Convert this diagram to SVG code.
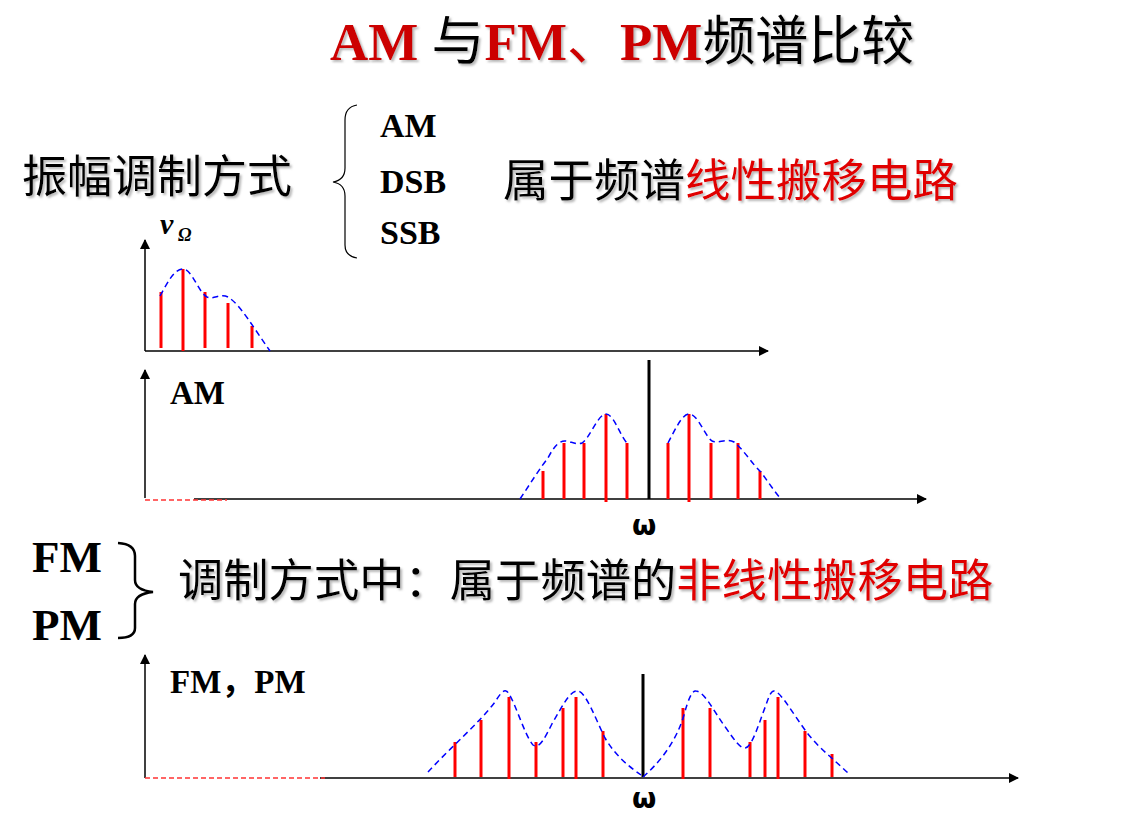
<svg xmlns="http://www.w3.org/2000/svg" width="1143" height="831" viewBox="0 0 1143 831">
<style>
.bg{fill:#fff}
.axis{stroke:#000;stroke-width:1.5;fill:none}
.bar{stroke:#f00;stroke-width:3;fill:none}
.car{stroke:#000;stroke-width:3;fill:none}
.env{stroke:#00f;stroke-width:1.5;fill:none;stroke-dasharray:6 4}
.rdash{stroke:#f33;stroke-width:1.5;fill:none;stroke-dasharray:5 3}
.brace{stroke:#000;fill:none}
.lat{font-family:"Liberation Serif","Times New Roman",serif;font-weight:bold}
.cjk{font-family:"Noto Sans CJK SC","Noto Sans",sans-serif}
.red{fill:#e00000}
.blk{fill:#000}
</style>
<defs>
<marker id="arr" viewBox="0 0 10 10" refX="9" refY="5" markerWidth="10" markerHeight="10" markerUnits="userSpaceOnUse" orient="auto">
<path d="M0,0 L10,5 L0,10 Z" fill="#000"/>
</marker>
<filter id="sh" x="-5%" y="-20%" width="110%" height="150%">
<feDropShadow dx="2" dy="2" stdDeviation="1.2" flood-color="#888" flood-opacity="0.6"/>
</filter>
</defs>
<rect class="bg" x="0" y="0" width="1143" height="831"/>

<g id="title" filter="url(#sh)">
<text x="330" y="60" font-size="53"><tspan class="lat" fill="#cc0000">AM </tspan><tspan class="cjk blk">与</tspan><tspan class="lat" fill="#cc0000">FM</tspan><tspan class="cjk" fill="#cc0000">、</tspan><tspan class="lat" fill="#cc0000">PM</tspan><tspan class="cjk blk">频谱比较</tspan></text>
</g>

<g id="am-modes">
<text class="cjk" x="22" y="193" font-size="45" fill="#000" filter="url(#sh)">振幅调制方式</text>
<path class="brace" stroke-width="1.2" d="M357,105 Q345,107 345,120 L345,168 Q345,180 333,182 Q345,184 345,196 L345,245 Q345,256 357,258"/>
<text class="lat" x="380" y="137" font-size="34">AM</text>
<text class="lat" x="380" y="193" font-size="34">DSB</text>
<text class="lat" x="380" y="244" font-size="34">SSB</text>
<text class="cjk" x="503" y="197" font-size="45.5" filter="url(#sh)"><tspan fill="#000">属于频谱</tspan><tspan fill="#e00000">线性搬移电路</tspan></text>
</g>

<g id="chart-baseband">
<line class="axis" x1="145" y1="351" x2="145" y2="240" marker-end="url(#arr)"/>
<line class="axis" x1="145" y1="351" x2="768" y2="351" marker-end="url(#arr)"/>
<text x="160" y="234" font-size="30" font-family="Liberation Serif,serif" font-style="italic" font-weight="bold">v</text>
<text x="178" y="241" font-size="18" font-family="Liberation Serif,serif" font-style="italic" font-weight="bold">Ω</text>
<line class="bar" x1="161" y1="348" x2="161" y2="292"/>
<line class="bar" x1="183" y1="351" x2="183" y2="269"/>
<line class="bar" x1="205" y1="348" x2="205" y2="292"/>
<line class="bar" x1="228" y1="348" x2="228" y2="303"/>
<line class="bar" x1="252" y1="348" x2="252" y2="326"/>
<path class="env" d="M160,296 C168,282 174,269 183,269 C192,269 198,292 207,297 C214,300 220,293 228,297 C240,304 255,330 270,351"/>
</g>

<g id="chart-am">
<line class="axis" x1="145" y1="498" x2="145" y2="370" marker-end="url(#arr)"/>
<line class="axis" x1="194" y1="499" x2="926" y2="499" marker-end="url(#arr)"/>
<line class="rdash" x1="145" y1="500" x2="227" y2="500"/>
<text class="lat" x="170" y="404" font-size="33">AM</text>
<line class="car" x1="649" y1="360" x2="649" y2="499"/>
<line class="bar" x1="543" y1="499" x2="543" y2="471"/>
<line class="bar" x1="564" y1="499" x2="564" y2="443"/>
<line class="bar" x1="584" y1="499" x2="584" y2="443"/>
<line class="bar" x1="606" y1="502" x2="606" y2="414"/>
<line class="bar" x1="627" y1="499" x2="627" y2="443"/>
<line class="bar" x1="668" y1="499" x2="668" y2="443"/>
<line class="bar" x1="689" y1="502" x2="689" y2="414"/>
<line class="bar" x1="711" y1="499" x2="711" y2="443"/>
<line class="bar" x1="738" y1="499" x2="738" y2="443"/>
<line class="bar" x1="760" y1="499" x2="760" y2="471"/>
<path class="env" d="M520,499 C530,484 540,468 548,458 C554,446 560,440 566,441 C572,442 577,445 582,443 C590,438 598,414 606,414 C614,414 620,436 627,443"/>
<path class="env" d="M668,443 C675,430 682,414 689,414 C698,414 704,435 712,441 C718,444 726,438 734,442 C744,450 752,464 761,472 C768,482 775,492 781,499"/>
<text x="632" y="535" font-size="28" font-family="DejaVu Sans,sans-serif" font-weight="bold">ω</text>
</g>

<g id="fm-modes">
<text class="lat" x="32" y="572" font-size="45">FM</text>
<text class="lat" x="32" y="640" font-size="45">PM</text>
<path class="brace" stroke-width="2.5" d="M118,543 Q135,544 135,556 L135,580 Q135,590 153,592 Q135,594 135,604 L135,628 Q135,638 118,638"/>
<text class="cjk" x="178" y="597" font-size="45.3" filter="url(#sh)"><tspan fill="#000">调制方式中：属于频谱的</tspan><tspan fill="#e00000">非线性搬移电路</tspan></text>
</g>

<g id="chart-fm">
<line class="axis" x1="145" y1="778" x2="145" y2="655" marker-end="url(#arr)"/>
<line class="axis" x1="320" y1="778" x2="1018" y2="778" marker-end="url(#arr)"/>
<line class="rdash" x1="145" y1="778" x2="325" y2="778"/>
<text x="170" y="693" font-size="33"><tspan class="lat">FM</tspan><tspan class="cjk" font-weight="bold">，</tspan><tspan class="lat">PM</tspan></text>
<line class="car" x1="643" y1="674" x2="643" y2="777"/>
<line class="bar" x1="455" y1="777" x2="455" y2="742"/>
<line class="bar" x1="481" y1="777" x2="481" y2="720"/>
<line class="bar" x1="509" y1="779" x2="509" y2="697"/>
<line class="bar" x1="536" y1="777" x2="536" y2="742"/>
<line class="bar" x1="563" y1="777" x2="563" y2="708"/>
<line class="bar" x1="576" y1="779" x2="576" y2="697"/>
<line class="bar" x1="603" y1="777" x2="603" y2="731"/>
<line class="bar" x1="683" y1="779" x2="683" y2="708"/>
<line class="bar" x1="710" y1="777" x2="710" y2="708"/>
<line class="bar" x1="750" y1="777" x2="750" y2="742"/>
<line class="bar" x1="765" y1="777" x2="765" y2="720"/>
<line class="bar" x1="778" y1="779" x2="778" y2="697"/>
<line class="bar" x1="805" y1="777" x2="805" y2="731"/>
<line class="bar" x1="832" y1="777" x2="832" y2="754"/>
<path class="env" d="M428,772 C450,748 480,722 495,702 C500,694 503,690 506,691 C512,692 524,735 533,745 C540,750 546,735 553,722 C562,707 570,690 578,691 C586,692 596,720 605,738 C615,755 628,766 641,775"/>
<path class="env" d="M643,777 C660,762 676,742 684,715 C688,700 692,690 696,691 C705,692 714,712 726,728 C735,741 740,748 745,748 C752,748 760,720 766,705 C769,696 771,691 774,691 C780,691 792,712 805,730 C818,748 835,760 850,775"/>
<text x="632" y="808" font-size="28" font-family="DejaVu Sans,sans-serif" font-weight="bold">ω</text>
</g>
</svg>
